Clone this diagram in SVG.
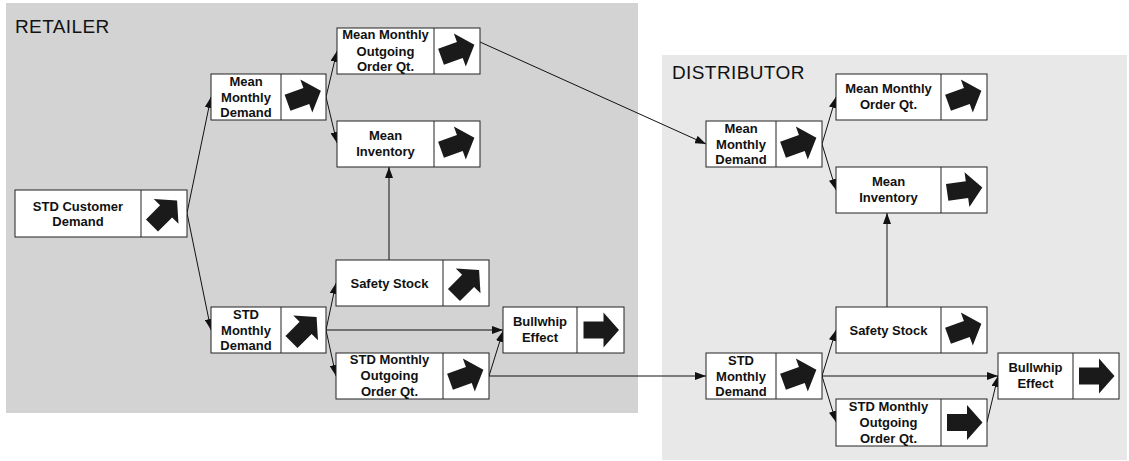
<svg xmlns="http://www.w3.org/2000/svg" xmlns:xlink="http://www.w3.org/1999/xlink" width="1129" height="461" viewBox="0 0 1129 461">
<style>
.panel-r{fill:#d3d3d3}
.panel-d{fill:#e8e8e8}
.ptitle{font-family:"Liberation Sans",Arial,sans-serif;font-size:19px;letter-spacing:0.4px;fill:#111}
.box{fill:#fff;stroke:#222;stroke-width:1}
.lbl{font-family:"Liberation Sans",Arial,sans-serif;font-size:13px;font-weight:bold;fill:#111;text-anchor:middle}
.ico{fill:#1a1a1a}
.edge{stroke:#111;stroke-width:1;fill:none;marker-end:url(#ah)}
</style>
<defs>
<marker id="ah" markerUnits="userSpaceOnUse" markerWidth="12" markerHeight="8" refX="11" refY="4" orient="auto">
<path d="M0,0 L11,4 L0,8 Z" fill="#111"/>
</marker>
<path id="arr" d="M-17,-8.5 L3,-8.5 L3,-17.5 L18.5,0 L3,17.5 L3,8.5 L-17,8.5 Z"/>
</defs>
<rect class="panel-r" x="6" y="3" width="632" height="410"/>
<rect class="panel-d" x="662" y="55" width="465" height="405"/>
<text class="ptitle" x="15" y="33">RETAILER</text>
<text class="ptitle" x="672" y="79">DISTRIBUTOR</text>

<g id="connectors">
<line class="edge" x1="187" y1="213" x2="211" y2="97"/>
<line class="edge" x1="187" y1="213" x2="211" y2="330"/>
<line class="edge" x1="326" y1="97" x2="337" y2="51"/>
<line class="edge" x1="326" y1="97" x2="337" y2="143"/>
<line class="edge" x1="389" y1="260" x2="389" y2="167"/>
<line class="edge" x1="326" y1="330" x2="336" y2="283"/>
<line class="edge" x1="326" y1="330" x2="503" y2="330"/>
<line class="edge" x1="326" y1="330" x2="336" y2="376"/>
<line class="edge" x1="489" y1="376" x2="503" y2="331"/>
<line class="edge" x1="489" y1="376" x2="706" y2="376"/>
<line class="edge" x1="480" y1="42" x2="706" y2="144"/>
<line class="edge" x1="822" y1="144" x2="836" y2="97"/>
<line class="edge" x1="822" y1="144" x2="836" y2="190"/>
<line class="edge" x1="887" y1="307" x2="887" y2="213"/>
<line class="edge" x1="822" y1="376" x2="836" y2="330"/>
<line class="edge" x1="822" y1="376" x2="998" y2="376"/>
<line class="edge" x1="822" y1="376" x2="836" y2="422"/>
<line class="edge" x1="987" y1="422" x2="998" y2="376"/>
</g>

<g id="r-std-customer-demand">
<rect class="box" x="15" y="190" width="172" height="47"/>
<line class="box" x1="141" y1="190" x2="141" y2="237"/>
<text class="lbl" x="78" y="210.5">STD Customer</text>
<text class="lbl" x="78" y="226">Demand</text>
<use href="#arr" class="ico" transform="translate(164,213.5) rotate(-45)"/>
</g>

<g id="r-mean-monthly-demand">
<rect class="box" x="211" y="74" width="115" height="46"/>
<line class="box" x1="281" y1="74" x2="281" y2="120"/>
<text class="lbl" x="246" y="86">Mean</text>
<text class="lbl" x="246" y="101.5">Monthly</text>
<text class="lbl" x="246" y="117">Demand</text>
<use href="#arr" class="ico" transform="translate(303.5,97) rotate(-20)"/>
</g>

<g id="r-std-monthly-demand">
<rect class="box" x="211" y="307" width="115" height="46"/>
<line class="box" x1="281" y1="307" x2="281" y2="353"/>
<text class="lbl" x="246" y="318.5">STD</text>
<text class="lbl" x="246" y="334.5">Monthly</text>
<text class="lbl" x="246" y="350">Demand</text>
<use href="#arr" class="ico" transform="translate(303.5,330) rotate(-45)"/>
</g>

<g id="r-mean-monthly-outgoing-order">
<rect class="box" x="337" y="28" width="143" height="46"/>
<line class="box" x1="434" y1="28" x2="434" y2="74"/>
<text class="lbl" x="385.5" y="39">Mean Monthly</text>
<text class="lbl" x="385.5" y="56">Outgoing</text>
<text class="lbl" x="385.5" y="71">Order Qt.</text>
<use href="#arr" class="ico" transform="translate(457,51) rotate(-20)"/>
</g>

<g id="r-mean-inventory">
<rect class="box" x="337" y="121" width="143" height="46"/>
<line class="box" x1="434" y1="121" x2="434" y2="167"/>
<text class="lbl" x="385.5" y="140">Mean</text>
<text class="lbl" x="385.5" y="156">Inventory</text>
<use href="#arr" class="ico" transform="translate(457,144) rotate(-20)"/>
</g>

<g id="r-safety-stock">
<rect class="box" x="336" y="260" width="153" height="46"/>
<line class="box" x1="443" y1="260" x2="443" y2="306"/>
<text class="lbl" x="389.5" y="287.5">Safety Stock</text>
<use href="#arr" class="ico" transform="translate(466,283) rotate(-45)"/>
</g>

<g id="r-std-monthly-outgoing-order">
<rect class="box" x="336" y="353" width="153" height="46"/>
<line class="box" x1="443" y1="353" x2="443" y2="399"/>
<text class="lbl" x="389.5" y="364">STD Monthly</text>
<text class="lbl" x="389.5" y="380">Outgoing</text>
<text class="lbl" x="389.5" y="396">Order Qt.</text>
<use href="#arr" class="ico" transform="translate(466,376) rotate(-20)"/>
</g>

<g id="r-bullwhip">
<rect class="box" x="503" y="307" width="121" height="46"/>
<line class="box" x1="577" y1="307" x2="577" y2="353"/>
<text class="lbl" x="540" y="326">Bullwhip</text>
<text class="lbl" x="540" y="342">Effect</text>
<use href="#arr" class="ico" transform="translate(600.5,330)"/>
</g>

<g id="d-mean-monthly-demand">
<rect class="box" x="706" y="121" width="116" height="46"/>
<line class="box" x1="776" y1="121" x2="776" y2="167"/>
<text class="lbl" x="741" y="133">Mean</text>
<text class="lbl" x="741" y="148.5">Monthly</text>
<text class="lbl" x="741" y="164">Demand</text>
<use href="#arr" class="ico" transform="translate(799,144) rotate(-20)"/>
</g>

<g id="d-mean-monthly-order">
<rect class="box" x="836" y="74" width="151" height="46"/>
<line class="box" x1="941" y1="74" x2="941" y2="120"/>
<text class="lbl" x="888.5" y="93">Mean Monthly</text>
<text class="lbl" x="888.5" y="109">Order Qt.</text>
<use href="#arr" class="ico" transform="translate(964,97) rotate(-20)"/>
</g>

<g id="d-mean-inventory">
<rect class="box" x="836" y="167" width="151" height="46"/>
<line class="box" x1="941" y1="167" x2="941" y2="213"/>
<text class="lbl" x="888.5" y="186">Mean</text>
<text class="lbl" x="888.5" y="202">Inventory</text>
<use href="#arr" class="ico" transform="translate(964,190) rotate(-8)"/>
</g>

<g id="d-safety-stock">
<rect class="box" x="836" y="307" width="151" height="46"/>
<line class="box" x1="941" y1="307" x2="941" y2="353"/>
<text class="lbl" x="888.5" y="334.5">Safety Stock</text>
<use href="#arr" class="ico" transform="translate(964,330) rotate(-20)"/>
</g>

<g id="d-std-monthly-demand">
<rect class="box" x="706" y="353" width="116" height="46"/>
<line class="box" x1="776" y1="353" x2="776" y2="399"/>
<text class="lbl" x="741" y="364.5">STD</text>
<text class="lbl" x="741" y="380.5">Monthly</text>
<text class="lbl" x="741" y="396">Demand</text>
<use href="#arr" class="ico" transform="translate(799,376) rotate(-20)"/>
</g>

<g id="d-std-monthly-outgoing-order">
<rect class="box" x="836" y="399" width="151" height="47"/>
<line class="box" x1="941" y1="399" x2="941" y2="446"/>
<text class="lbl" x="888.5" y="410.5">STD Monthly</text>
<text class="lbl" x="888.5" y="426.5">Outgoing</text>
<text class="lbl" x="888.5" y="442.5">Order Qt.</text>
<use href="#arr" class="ico" transform="translate(964,422.5)"/>
</g>

<g id="d-bullwhip">
<rect class="box" x="998" y="353" width="121" height="46"/>
<line class="box" x1="1073" y1="353" x2="1073" y2="399"/>
<text class="lbl" x="1035.5" y="372">Bullwhip</text>
<text class="lbl" x="1035.5" y="388">Effect</text>
<use href="#arr" class="ico" transform="translate(1096,376)"/>
</g>
</svg>
